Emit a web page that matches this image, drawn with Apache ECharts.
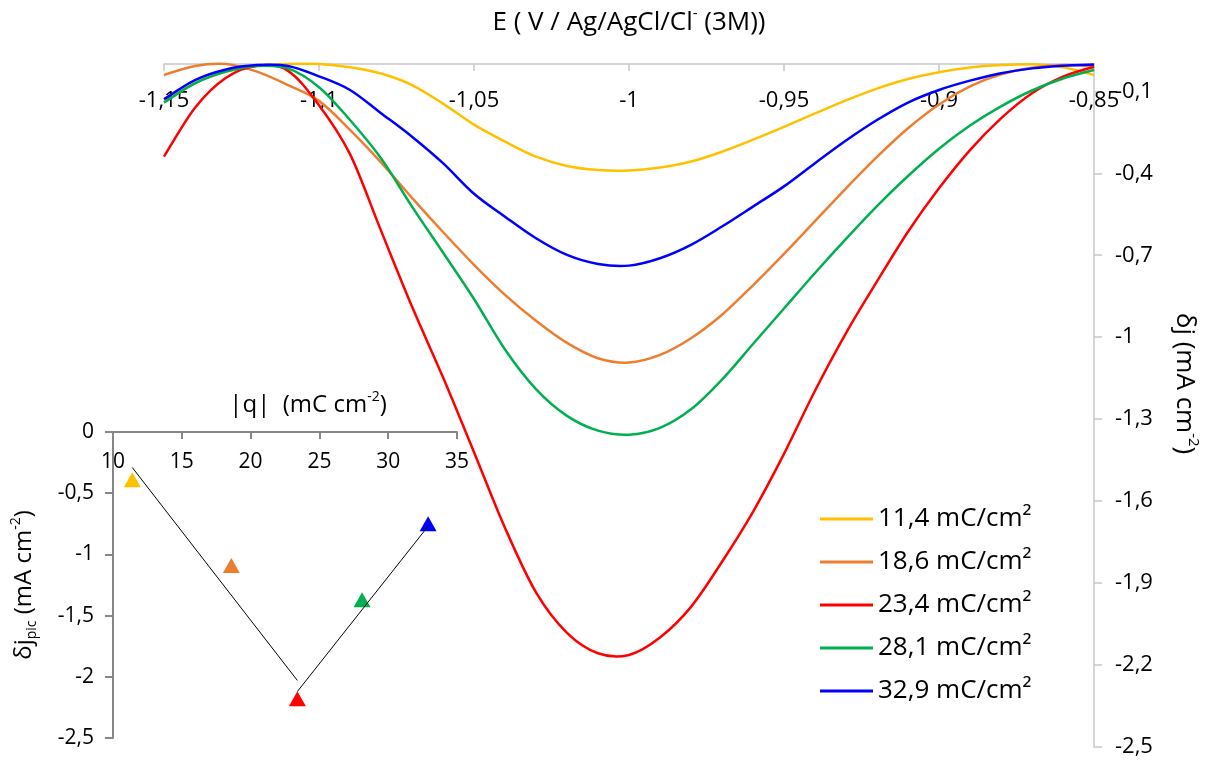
<!DOCTYPE html>
<html><head><meta charset="utf-8">
<script src="https://cdn.jsdelivr.net/npm/echarts@6/dist/echarts.min.js"></script>
<style>html,body{margin:0;padding:0;background:#fff}#c{width:1209px;height:760px}</style>
</head><body><div id="c"></div><script>
// Potential E (V vs Ag/AgCl/Cl- 3M)
const potentials = [-1.15,-1.14,-1.13,-1.12,-1.11,-1.10,-1.09,-1.08,-1.07,-1.06,-1.05,-1.04,-1.03,-1.02,-1.01,-1.00,-0.99,-0.98,-0.97,-0.96,-0.95,-0.94,-0.93,-0.92,-0.91,-0.90,-0.89,-0.88,-0.87,-0.86,-0.85];
// delta j (mA cm-2) for each charge density
const dj114 = [-0.14,-0.07,-0.028,-0.007,0,0,-0.012,-0.035,-0.077,-0.145,-0.222,-0.284,-0.339,-0.373,-0.388,-0.39,-0.379,-0.357,-0.321,-0.277,-0.23,-0.181,-0.133,-0.09,-0.055,-0.03,-0.013,-0.004,-0.001,-0.012,-0.04];
const dj186 = [-0.04,-0.007,0,-0.028,-0.077,-0.135,-0.241,-0.36,-0.49,-0.615,-0.735,-0.845,-0.94,-1.021,-1.077,-1.093,-1.065,-1.004,-0.918,-0.81,-0.695,-0.575,-0.455,-0.34,-0.235,-0.148,-0.082,-0.038,-0.014,-0.004,-0.007];
const dj234 = [-0.339,-0.16,-0.05,-0.006,-0.025,-0.151,-0.33,-0.61,-0.888,-1.147,-1.421,-1.698,-1.934,-2.082,-2.157,-2.163,-2.099,-1.987,-1.822,-1.639,-1.427,-1.196,-0.985,-0.796,-0.614,-0.455,-0.315,-0.199,-0.107,-0.046,-0.01];
const dj281 = [-0.141,-0.071,-0.028,-0.007,-0.016,-0.085,-0.205,-0.345,-0.522,-0.69,-0.86,-1.045,-1.19,-1.288,-1.342,-1.357,-1.332,-1.264,-1.155,-1.025,-0.895,-0.765,-0.64,-0.52,-0.41,-0.31,-0.225,-0.155,-0.097,-0.053,-0.022];
const dj329 = [-0.129,-0.059,-0.02,-0.004,-0.007,-0.045,-0.095,-0.18,-0.266,-0.363,-0.475,-0.559,-0.638,-0.699,-0.732,-0.738,-0.711,-0.662,-0.595,-0.522,-0.448,-0.363,-0.28,-0.205,-0.141,-0.095,-0.061,-0.034,-0.016,-0.006,-0.002];
const seriesNames = ['11,4 mC/cm²','18,6 mC/cm²','23,4 mC/cm²','28,1 mC/cm²','32,9 mC/cm²'];
const seriesColors = ['#FFC000','#ED7D31','#FF0000','#00B050','#0000FF'];
// inset: |q| vs delta j peak
const charges = [11.4, 18.6, 23.4, 28.1, 32.9];
const peakDj = [-0.39, -1.09, -2.18, -1.37, -0.75];
const trend1Q = [11.4, 23.4];
const trend1Dj = [-0.29, -2.03];
const trend2Q = [23.4, 32.9];
const trend2Dj = [-2.12, -0.77];

const FONT = "'Open Sans','Noto Sans',sans-serif";
const fmt = v => String(Math.round(v * 1000) / 1000).replace('.', ',');
const allDj = [dj114, dj186, dj234, dj281, dj329];

// smooth Catmull-Rom path through pixel points obtained from the axis scales
function splinePath(pts) {
  let d = 'M' + pts[0][0] + ',' + pts[0][1];
  for (let i = 0; i < pts.length - 1; i++) {
    const p0 = pts[i - 1] || pts[i], p1 = pts[i], p2 = pts[i + 1], p3 = pts[i + 2] || pts[i + 1];
    const c1x = p1[0] + (p2[0] - p0[0]) / 6, c1y = p1[1] + (p2[1] - p0[1]) / 6;
    const c2x = p2[0] - (p3[0] - p1[0]) / 6, c2y = p2[1] - (p3[1] - p1[1]) / 6;
    d += 'C' + c1x + ',' + c1y + ',' + c2x + ',' + c2y + ',' + p2[0] + ',' + p2[1];
  }
  return d;
}

const chart = echarts.init(document.getElementById('c'));
const curveSeries = allDj.map((arr, k) => ({
  name: seriesNames[k], type: 'custom', xAxisIndex: 0, yAxisIndex: 0,
  data: potentials.map((x, i) => [x, arr[i]]),
  encode: { x: 0, y: 1 },
  itemStyle: { color: seriesColors[k] },
  z: 2 + k,
  renderItem: (params, api) => {
    if (params.dataIndex !== 0) return null;
    const pts = potentials.map((x, i) => api.coord([x, arr[i]]));
    return {
      type: 'path', shape: { pathData: splinePath(pts) },
      style: { fill: null, stroke: seriesColors[k], lineWidth: 2.5 }
    };
  }
}));

function rich(size, small) {
  return {
    t: { fontFamily: FONT, fontSize: size, color: '#000', lineHeight: Math.round(size * 1.25) },
    s: { fontFamily: FONT, fontSize: small, color: '#000', verticalAlign: 'top', lineHeight: small + 2 },
    b: { fontFamily: FONT, fontSize: small, color: '#000', verticalAlign: 'bottom', lineHeight: small + 2 }
  };
}

chart.setOption({
  animation: false,
  backgroundColor: '#fff',
  grid: [
    { left: 164, right: 113, top: 64, bottom: 13 },
    { left: 113, right: 752, top: 432, bottom: 22 }
  ],
  legend: {
    data: seriesNames, orient: 'vertical', left: 815, top: 499,
    icon: 'rect', itemWidth: 53, itemHeight: 3, itemGap: 13,
    textStyle: { fontFamily: FONT, fontSize: 26, color: '#000', lineHeight: 30 }
  },
  xAxis: [
    { gridIndex: 0, type: 'value', position: 'top', min: -1.15, max: -0.85, interval: 0.05,
      name: '{t|E ( V / Ag/AgCl/Cl}{s|-}{t| (3M))}', nameLocation: 'middle', nameGap: 25,
      nameTextStyle: { rich: rich(26, 15) },
      axisLine: { onZero: false, lineStyle: { color: '#C8C8C8', width: 1.5 } },
      axisTick: { inside: true, length: 7, lineStyle: { color: '#C8C8C8', width: 1.5 } },
      axisLabel: { inside: true, margin: 26, fontFamily: FONT, fontSize: 22, color: '#000', formatter: fmt },
      splitLine: { show: false } },
    { gridIndex: 1, type: 'value', position: 'top', min: 10, max: 35, interval: 5,
      name: '{t||q|  (mC cm}{s|-2}{t|)}', nameLocation: 'middle', nameGap: 12,
      nameTextStyle: { rich: rich(24, 14), padding: [0, 0, 0, 46] },
      axisLine: { onZero: false, lineStyle: { color: '#868686', width: 2 } },
      axisTick: { inside: true, length: 7, lineStyle: { color: '#868686', width: 2 } },
      axisLabel: { inside: true, margin: 20, fontFamily: FONT, fontSize: 21, color: '#000', formatter: fmt },
      splitLine: { show: false } }
  ],
  yAxis: [
    { gridIndex: 0, type: 'value', position: 'right', min: -2.5, max: 0, interval: 0.3,
      name: '{t|δj (mA cm}{s|-2}{t|)}', nameLocation: 'middle', nameGap: 74, nameRotate: -90,
      nameTextStyle: { rich: rich(26, 15), padding: [0, 44, 0, 0] },
      axisLine: { onZero: false, lineStyle: { color: '#C8C8C8', width: 1.5 } },
      axisTick: { inside: false, length: 8, lineStyle: { color: '#C8C8C8', width: 1.5 } },
      axisLabel: { margin: 21, fontFamily: FONT, fontSize: 22, color: '#000', formatter: fmt, showMaxLabel: false },
      splitLine: { show: false } },
    { gridIndex: 1, type: 'value', position: 'left', min: -2.5, max: 0, interval: 0.5,
      name: '{t|δj}{b|pic}{t| (mA cm}{s|-2}{t|)}', nameLocation: 'middle', nameGap: 74, nameRotate: 90,
      nameTextStyle: { rich: rich(24, 14) },
      axisLine: { onZero: false, lineStyle: { color: '#868686', width: 2 } },
      axisTick: { inside: false, length: 8, lineStyle: { color: '#868686', width: 2 } },
      axisLabel: { margin: 19, fontFamily: FONT, fontSize: 21, color: '#000', formatter: fmt },
      splitLine: { show: false } }
  ],
  series: curveSeries.concat([
    { type: 'scatter', xAxisIndex: 1, yAxisIndex: 1, symbol: 'triangle', symbolSize: [17, 15],
      data: charges.map((q, i) => ({ value: [q, peakDj[i]], itemStyle: { color: seriesColors[i], opacity: 1 } })), z: 10 },
    { type: 'line', xAxisIndex: 1, yAxisIndex: 1, symbol: 'none',
      data: trend1Q.map((q, i) => [q, trend1Dj[i]]), lineStyle: { color: '#000', width: 1 }, z: 11 },
    { type: 'line', xAxisIndex: 1, yAxisIndex: 1, symbol: 'none',
      data: trend2Q.map((q, i) => [q, trend2Dj[i]]), lineStyle: { color: '#000', width: 1 }, z: 11 }
  ])
});
</script></body></html>
